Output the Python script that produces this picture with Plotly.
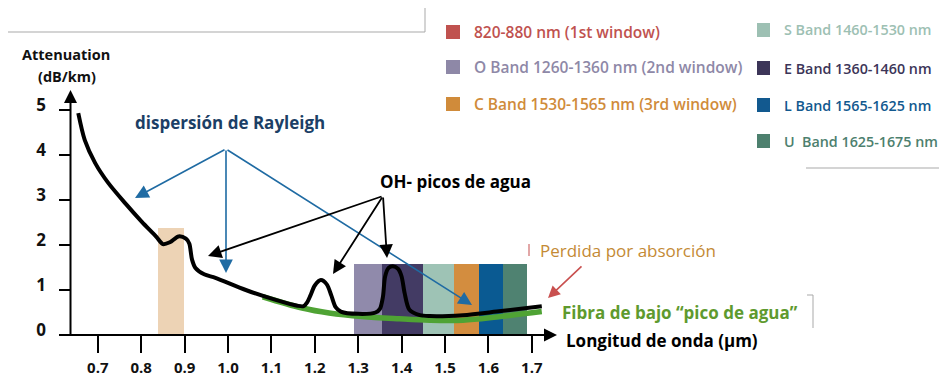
import plotly.graph_objects as go

# page is rendered with an 8px body margin -> figure is 8px smaller and shifted
OFF = 8
W, H = 947 - OFF, 386 - OFF

# ---------------- data ----------------
# black attenuation curve (standard fibre)
wl_black = [0.655, 0.670, 0.694, 0.724, 0.763, 0.801, 0.835, 0.850, 0.866, 0.886, 0.903, 0.911,
            0.914, 0.917, 0.925, 0.945, 0.971, 1.041, 1.110, 1.160, 1.174, 1.182, 1.190, 1.200,
            1.214, 1.228, 1.238, 1.248, 1.260, 1.300, 1.340, 1.350, 1.357, 1.362, 1.370, 1.380,
            1.392, 1.400, 1.407, 1.418, 1.442, 1.465, 1.541, 1.619, 1.723]
att_black = [4.93, 4.33, 3.82, 3.38, 2.93, 2.52, 2.18, 2.02, 2.06, 2.19, 2.14, 2.03,
             1.86, 1.68, 1.49, 1.35, 1.27, 1.00, 0.78, 0.65, 0.64, 0.72, 0.88, 1.10,
             1.22, 1.12, 0.88, 0.62, 0.52, 0.47, 0.50, 0.58, 0.85, 1.30, 1.49, 1.53,
             1.47, 1.30, 0.93, 0.56, 0.44, 0.42, 0.44, 0.52, 0.64]

# green curve (low water peak fibre)
wl_green = [1.080, 1.171, 1.233, 1.309, 1.395, 1.465, 1.541, 1.619, 1.723]
att_green = [0.85, 0.60, 0.49, 0.41, 0.36, 0.33, 0.33, 0.40, 0.52]

# spectral bands drawn on the chart (µm)
band_start = [0.838, 1.291, 1.355, 1.449, 1.520, 1.578, 1.633]
band_end = [0.898, 1.355, 1.449, 1.520, 1.578, 1.633, 1.688]
band_top = [2.38, 1.58, 1.58, 1.58, 1.58, 1.58, 1.58]
band_colors = ["#EDD3B5", "#908AAB", "#433B64", "#9EC3B5", "#D38D3F", "#0A5A92", "#4F8271"]

# legend entries
legend_left = ["820-880 nm (1st window)", "O Band 1260-1360 nm (2nd window)",
               "C Band 1530-1565 nm (3rd window)"]
legend_left_colors = ["#C0524F", "#8E88A7", "#D08B3A"]
legend_right = ["S Band 1460-1530 nm", "E Band 1360-1460 nm", "L Band 1565-1625 nm",
                "U  Band 1625-1675 nm"]
legend_right_colors = ["#9DC0B3", "#3C3558", "#12598F", "#4D806E"]

x_ticks = [0.7, 0.8, 0.9, 1.0, 1.1, 1.2, 1.3, 1.4, 1.5, 1.6, 1.7]
y_ticks = [0, 1, 2, 3, 4, 5]

# ---------------- pixel <-> data helpers (page pixels) ----------------
X0_PX, X_SCALE = 97.8, 434.0      # page px of 0.7 µm, px per µm
Y0_PX, Y_SCALE = 335.0, 45.0      # page px of 0 dB/km, px per dB/km


def dx(px):
    return 0.7 + (px - X0_PX) / X_SCALE


def dy(py):
    return (Y0_PX - py) / Y_SCALE


def px_(px):
    return (px - OFF) / W


def py_(py):
    return 1 - (py - OFF) / H


fig = go.Figure()

# bands as bars
for s, e, t, c in zip(band_start, band_end, band_top, band_colors):
    fig.add_trace(go.Bar(x=[(s + e) / 2], y=[t], width=[e - s], marker=dict(color=c, line=dict(width=0)),
                         showlegend=False, hoverinfo="skip"))

fig.add_trace(go.Scatter(x=wl_green, y=att_green, mode="lines",
                         line=dict(color="#4FA334", width=5.5, shape="spline", smoothing=1.0),
                         showlegend=False, hoverinfo="skip"))
fig.add_trace(go.Scatter(x=wl_black, y=att_black, mode="lines",
                         line=dict(color="#000000", width=4, shape="spline", smoothing=0.8),
                         showlegend=False, hoverinfo="skip"))

annotations = []
shapes = []

EPS = 1e-6
# axes with arrows
annotations.append(dict(x=dx(70.5), y=dy(90), ax=dx(70.5) + EPS, ay=dy(337), xref="x", yref="y",
                        axref="x", ayref="y", showarrow=True, arrowhead=2, arrowsize=1.3,
                        arrowwidth=2, arrowcolor="#000", text=""))
annotations.append(dict(x=dx(557), y=dy(335) + EPS, ax=dx(58), ay=dy(335) - EPS, xref="x", yref="y",
                        axref="x", ayref="y", showarrow=True, arrowhead=2, arrowsize=1.3,
                        arrowwidth=2, arrowcolor="#000", text=""))

BLUE = "#1F6BA3"
# Rayleigh arrows
tail = (dx(226), dy(149))
for hx, hy in [(135, 198), (226, 273), (472, 305)]:
    annotations.append(dict(x=dx(hx), y=dy(hy), ax=tail[0], ay=tail[1], xref="x", yref="y",
                            axref="x", ayref="y", showarrow=True, arrowhead=2, arrowsize=1.7,
                            arrowwidth=1.6, arrowcolor=BLUE, text=""))
# OH arrows
tail = (dx(383), dy(196))
for hx, hy in [(208, 256), (333, 274), (387, 258)]:
    annotations.append(dict(x=dx(hx), y=dy(hy), ax=tail[0], ay=tail[1], xref="x", yref="y",
                            axref="x", ayref="y", showarrow=True, arrowhead=2, arrowsize=1.5,
                            arrowwidth=1.8, arrowcolor="#000", text=""))
# absorption arrow
annotations.append(dict(x=dx(548), y=dy(298), ax=dx(583), ay=dy(265), xref="x", yref="y",
                        axref="x", ayref="y", showarrow=True, arrowhead=2, arrowsize=1.5,
                        arrowwidth=1.6, arrowcolor="#C9504F", text=""))

FONT = "Open Sans"


def txt(text, x, y, size, color, weight="bold", xanchor="center"):
    annotations.append(dict(text=text, x=px_(x), y=py_(y), xref="paper", yref="paper",
                            xanchor=xanchor, yanchor="middle", showarrow=False,
                            font=dict(family=FONT, size=size, color=color, weight=weight)))


txt("Attenuation", 66, 55, 14.5, "#111")
txt("(dB/km)", 67, 76, 14.5, "#111")
txt("dispersión de Rayleigh", 230, 123, 17, "#1C3F66")
txt("OH- picos de agua", 455, 181, 17, "#000")
txt("Perdida por absorción", 628, 250, 17, "#C48A35", weight="normal")
txt("Fibra de bajo “pico de agua”", 680, 312, 17, "#5E9A2E")
txt("Longitud de onda (µm)", 662, 340, 17, "#000")

# legend
left_y = [32, 67, 104]
for label, c, yy in zip(legend_left, legend_left_colors, left_y):
    shapes.append(dict(type="rect", xref="paper", yref="paper", x0=px_(446), x1=px_(460),
                       y0=py_(yy + 7), y1=py_(yy - 7), fillcolor=c, line=dict(width=0)))
    txt(label, 472, yy, 15.5, c, weight=600, xanchor="left")
right_y = [30, 68, 105, 141]
for label, c, yy in zip(legend_right, legend_right_colors, right_y):
    shapes.append(dict(type="rect", xref="paper", yref="paper", x0=px_(757), x1=px_(770),
                       y0=py_(yy + 7), y1=py_(yy - 7), fillcolor=c, line=dict(width=0)))
    txt(label, 782, yy, 14.3, c, weight=600, xanchor="left")

# decorative frame lines
GR = "#A9A9A9"
for (xa, ya, xb, yb) in [(0, 32, 425, 32), (425, 32, 425, 0), (806, 168, 947, 168),
                         (807, 295, 813, 295), (813, 295, 813, 328)]:
    shapes.append(dict(type="line", xref="paper", yref="paper", x0=px_(xa), y0=py_(ya),
                       x1=px_(xb), y1=py_(yb), line=dict(color=GR, width=1)))
shapes.append(dict(type="line", xref="paper", yref="paper", x0=px_(529), y0=py_(244),
                   x1=px_(529), y1=py_(256), line=dict(color="#D88A8A", width=1.5)))

fig.update_layout(
    width=W, height=H, margin=dict(l=0, r=0, t=0, b=0),
    paper_bgcolor="white", plot_bgcolor="rgba(0,0,0,0)",
    barmode="overlay", bargap=0, showlegend=False,
    annotations=annotations, shapes=shapes,
    xaxis=dict(domain=[0, 1], range=[dx(OFF), dx(947)], anchor="free", position=py_(Y0_PX),
               showline=False, showgrid=False, zeroline=False, ticks="outside", ticklen=17,
               tickwidth=2, tickcolor="#000", tickvals=x_ticks, ticktext=[f"{v:.1f}" for v in x_ticks],
               tickfont=dict(family=FONT, size=15, color="#111", weight="bold"),
               ticklabelstandoff=2, automargin=False, fixedrange=True),
    yaxis=dict(domain=[0, 1], range=[dy(386), dy(OFF)], anchor="free", position=px_(70.5),
               showline=False, showgrid=False, zeroline=False, ticks="outside", ticklen=12,
               tickwidth=2, tickcolor="#000", tickvals=y_ticks,
               tickfont=dict(family=FONT, size=17, color="#111", weight="bold"),
               ticklabelstandoff=9, ticklabelshift=-5, automargin=False, fixedrange=True),
)

fig.write_html("out.html")
